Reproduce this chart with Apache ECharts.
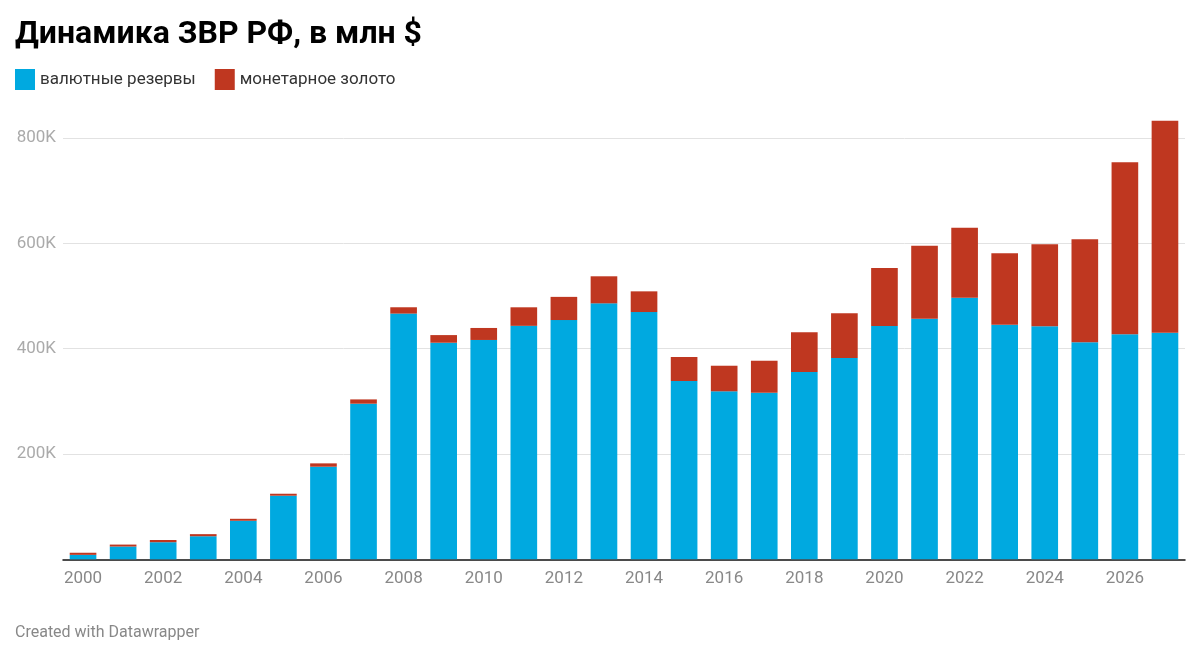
<!DOCTYPE html>
<html>
<head>
<meta charset="utf-8">
<script src="https://cdn.jsdelivr.net/npm/echarts@6/dist/echarts.min.js"></script>
<style>
html,body{margin:0;padding:0;background:#fff;}
#chart{width:1200px;height:657px;}
</style>
</head>
<body>
<div id="chart"></div>
<script>
// Data (millions USD, shown in thousands "K")
const years = ['2000','2001','2002','2003','2004','2005','2006','2007','2008','2009','2010','2011','2012','2013','2014','2015','2016','2017','2018','2019','2020','2021','2022','2023','2024','2025','2026','2027'];
const currencyReserves = [8455,24264,32465,43794,73206,120809,175891,295568,466750,411400,416652,443500,454500,486200,469700,338700,319100,316400,355700,382300,443000,457000,496900,445600,442500,412200,427400,430400];
const monetaryGold = [4002,3698,4157,3999,3732,3732,6349,8164,12012,14511,22798,35200,44000,51400,39300,45600,48600,60800,75400,84900,110300,138600,132900,135600,155800,195600,326600,402600];
const yTicks = [200000,400000,600000,800000];

const chart = echarts.init(document.getElementById('chart'));
const font = 'Roboto, "Noto Sans", sans-serif';
const blue = '#00a9e0';
const red = '#bf3720';

chart.setOption({
  animation: false,
  textStyle: { fontFamily: font },
  title: {
    text: 'Динамика ЗВР РФ, в млн $',
    left: 10, top: 14,
    textStyle: { fontFamily: font, fontSize: 32, fontWeight: 'bold', color: '#000' }
  },
  legend: {
    left: 10, top: 64,
    itemWidth: 20, itemHeight: 21, itemGap: 19,
    icon: 'rect',
    textStyle: { fontFamily: font, fontSize: 17, color: '#333' },
    data: ['валютные резервы', 'монетарное золото']
  },
  graphic: [{
    type: 'text', left: 15, top: 625,
    style: { text: 'Created with Datawrapper', font: '16px ' + font, fill: '#888' }
  }],
  grid: { left: 63, right: 15, top: 117.1, bottom: 97.7, containLabel: false },
  xAxis: {
    type: 'category',
    data: years,
    axisLine: { show: true, lineStyle: { color: '#111', width: 1.5 } },
    axisTick: { show: false },
    axisLabel: { interval: 1, color: '#888', fontSize: 17, fontFamily: font, margin: 11 }
  },
  yAxis: {
    type: 'value',
    min: 0, max: 840000, interval: 200000,
    axisLine: { show: false },
    axisTick: { show: false },
    axisLabel: {
      color: '#aaa', fontSize: 17, fontFamily: font, margin: 7,
      formatter: v => yTicks.includes(v) ? (v / 1000) + 'K' : ''
    },
    splitLine: { show: true, lineStyle: { color: ['transparent','#e2e2e2','#e2e2e2','#e2e2e2','#e2e2e2','transparent'], width: 1 } }
  },
  series: [
    {
      name: 'валютные резервы', type: 'bar', stack: 'total',
      data: currencyReserves, barCategoryGap: '33.5%',
      itemStyle: { color: blue }
    },
    {
      name: 'монетарное золото', type: 'bar', stack: 'total',
      data: monetaryGold, barCategoryGap: '33.5%',
      itemStyle: { color: red }
    }
  ]
});
</script>
</body>
</html>
